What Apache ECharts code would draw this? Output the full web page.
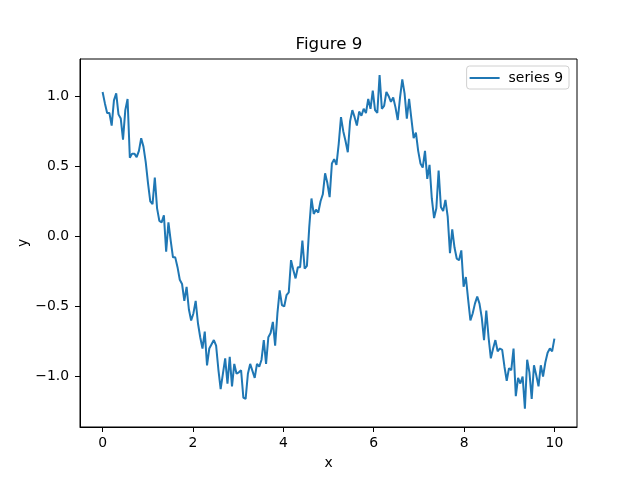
<!DOCTYPE html>
<html>
<head>
<meta charset="utf-8">
<script src="https://cdn.jsdelivr.net/npm/echarts@6/dist/echarts.min.js"></script>
<style>html,body{margin:0;padding:0;background:#fff}#c{width:640px;height:480px}</style>
</head>
<body>
<div id="c"></div>
<script>
const titleText = "Figure 9";
const seriesName = "series 9";
const xStart = 0, xEnd = 10;
const yValues = [
 1.03, 0.95, 0.88, 0.88, 0.79, 0.97, 1.02, 0.87, 0.84, 0.69,
 0.90, 0.98, 0.56, 0.59, 0.59, 0.565, 0.61, 0.70, 0.64, 0.53,
 0.38, 0.25, 0.23, 0.42, 0.20, 0.11, 0.10, 0.15, -0.11, 0.10,
 -0.03, -0.15, -0.15, -0.22, -0.31, -0.34, -0.46, -0.36, -0.52, -0.60,
 -0.55, -0.46, -0.62, -0.72, -0.80, -0.68, -0.92, -0.80, -0.77, -0.74,
 -0.78, -0.95, -1.09, -0.98, -0.87, -1.05, -0.86, -1.07, -0.91, -0.98,
 -0.97, -0.955, -1.15, -1.16, -0.98, -0.91, -0.96, -1.01, -0.91, -0.93,
 -0.88, -0.74, -0.91, -0.72, -0.69, -0.61, -0.78, -0.55, -0.385, -0.49,
 -0.50, -0.42, -0.40, -0.17, -0.24, -0.30, -0.22, -0.22, -0.03, -0.23,
 -0.21, 0.06, 0.27, 0.16, 0.19, 0.17, 0.25, 0.30, 0.45, 0.38,
 0.28, 0.52, 0.55, 0.51, 0.66, 0.85, 0.75, 0.68, 0.60, 0.82,
 0.90, 0.85, 0.79, 0.89, 0.86, 0.91, 0.88, 0.98, 0.91, 1.04,
 0.90, 0.88, 1.15, 0.91, 0.93, 1.03, 1.00, 0.96, 0.99, 0.92,
 0.83, 0.99, 1.12, 1.02, 0.84, 0.98, 0.84, 0.70, 0.74, 0.61,
 0.52, 0.49, 0.61, 0.41, 0.51, 0.27, 0.13, 0.20, 0.47, 0.21,
 0.18, 0.26, 0.14, -0.12, 0.05, -0.08, -0.16, -0.17, -0.10, -0.36,
 -0.29, -0.45, -0.60, -0.55, -0.48, -0.43, -0.48, -0.58, -0.74, -0.53,
 -0.72, -0.87, -0.80, -0.74, -0.82, -0.80, -0.81, -0.93, -1.03, -0.94,
 -0.955, -0.80, -1.14, -1.01, -1.05, -1.00, -1.23, -0.88, -0.97, -1.16,
 -0.92, -0.99, -1.07, -0.92, -1.00, -0.90, -0.83, -0.80, -0.82, -0.73
];
const xTicks = [0, 2, 4, 6, 8, 10];
const yTicks = [-1.0, -0.5, 0.0, 0.5, 1.0];

const n = yValues.length;
const data = yValues.map((v, i) => [xStart + (xEnd - xStart) * i / (n - 1), v]);
const FONT = "DejaVu Sans";
const fmtY = v => v.toFixed(1).replace('-', '\u2212');

const chart = echarts.init(document.getElementById('c'), null, {renderer: 'canvas'});
chart.setOption({
  animation: false,
  backgroundColor: '#fff',
  title: {
    text: titleText, left: 324, top: 31, textAlign: 'center',
    textStyle: {fontFamily: FONT, fontSize: 16.7, fontWeight: 'normal', color: '#000'}
  },
  legend: {
    data: [seriesName], right: 71, top: 66,
    icon: 'rect', itemWidth: 30, itemHeight: 2, itemGap: 8,
    backgroundColor: '#fff', borderColor: '#d0d0d0', borderWidth: 1, borderRadius: 3,
    padding: [5, 6, 4, 3],
    textStyle: {fontFamily: FONT, fontSize: 13.9, color: '#000', padding: [0,0,0,4]}
  },
  grid: {left: 80, right: 63, top: 59, bottom: 53, show: true, borderColor: '#000', borderWidth: 1, containLabel: false},
  xAxis: {
    type: 'value', min: -0.5, max: 10.5,
    name: 'x', nameLocation: 'middle', nameGap: 29,
    nameTextStyle: {fontFamily: FONT, fontSize: 13.9, color: '#000'},
    axisLine: {show: true, onZero: false, lineStyle: {color: '#000', width: 1}},
    axisTick: {show: true, inside: false, length: 5, lineStyle: {color: '#000'}, customValues: xTicks},
    axisLabel: {fontFamily: FONT, fontSize: 13.9, color: '#000', margin: 9, customValues: xTicks, formatter: v => String(v)},
    splitLine: {show: false}
  },
  yAxis: {
    type: 'value', min: -1.36, max: 1.265,
    name: 'y', nameLocation: 'middle', nameGap: 50, nameRotate: 90, nameMoveOverlap: false,
    nameTextStyle: {fontFamily: FONT, fontSize: 13.9, color: '#000'},
    axisLine: {show: true, onZero: false, lineStyle: {color: '#000', width: 1}},
    axisTick: {show: true, inside: false, length: 5, lineStyle: {color: '#000'}, customValues: yTicks},
    axisLabel: {fontFamily: FONT, fontSize: 13.9, color: '#000', margin: 11, customValues: yTicks, formatter: fmtY},
    splitLine: {show: false}
  },
  series: [{
    name: seriesName, type: 'line', data: data,
    showSymbol: false, symbol: 'none',
    lineStyle: {color: '#1f77b4', width: 2},
    itemStyle: {color: '#1f77b4'}
  }]
});
</script>
</body>
</html>
